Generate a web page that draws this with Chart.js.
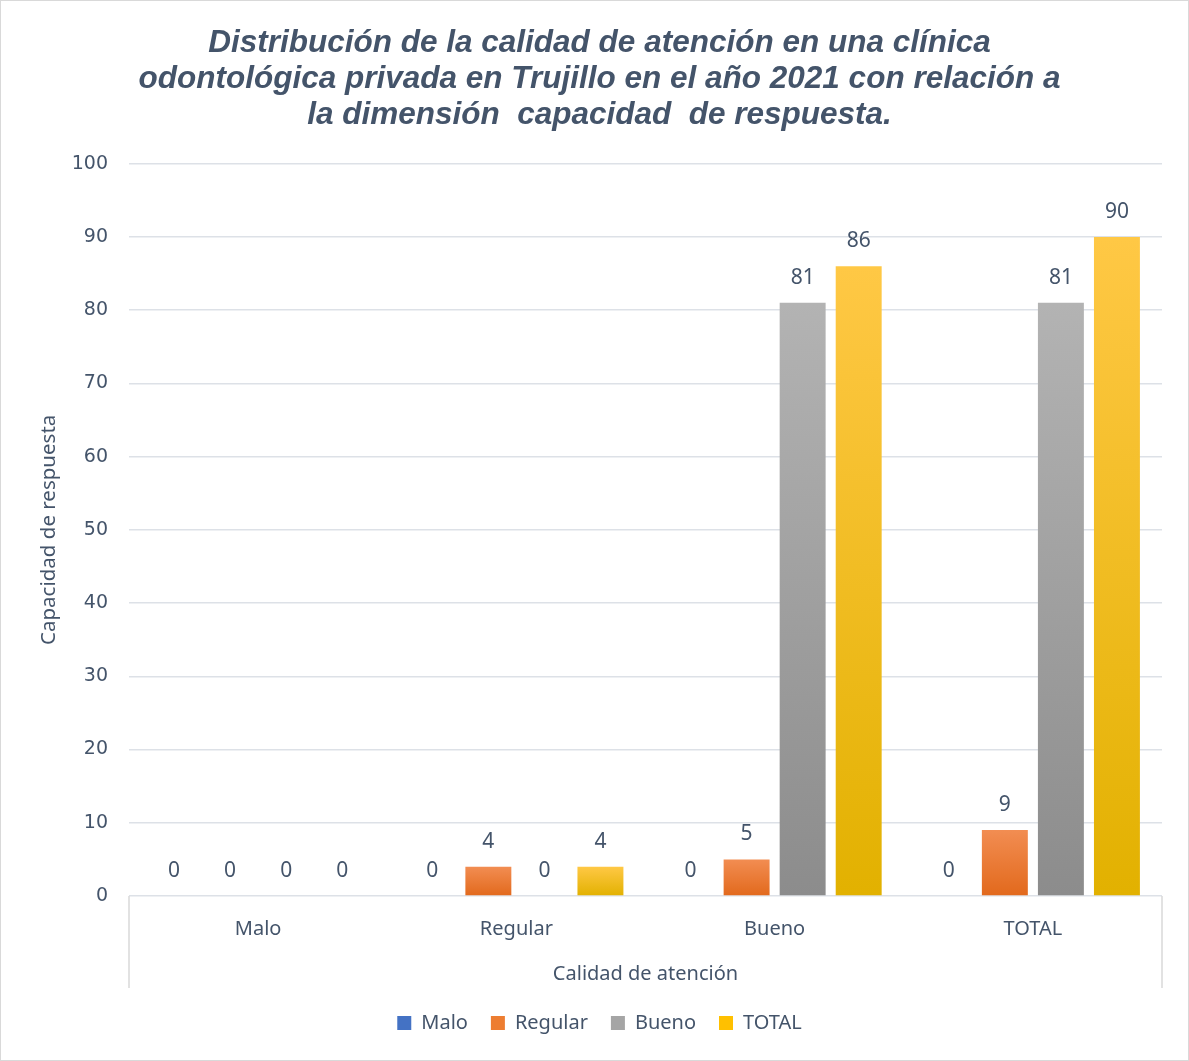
<!DOCTYPE html>
<html>
<head>
<meta charset="utf-8">
<script src="https://cdn.jsdelivr.net/npm/chart.js@4.4.1/dist/chart.umd.min.js"></script>
<style>
  html, body { margin: 0; padding: 0; background: #fff; }
  .wrap { width: 1187px; height: 1059px; border: 1px solid #d9d9d9; }
</style>
</head>
<body>
<div class="wrap"><canvas id="grafico" width="1187" height="1059"></canvas></div>
<script>
// Datos del gráfico
const categorias = ['Malo', 'Regular', 'Bueno', 'TOTAL'];
const serieNombres = ['Malo', 'Regular', 'Bueno', 'TOTAL'];
const valoresMalo = [0, 0, 0, 0];
const valoresRegular = [0, 4, 5, 9];
const valoresBueno = [0, 0, 81, 81];
const valoresTotal = [0, 4, 86, 90];
const ticksY = [0, 10, 20, 30, 40, 50, 60, 70, 80, 90, 100];

// colores (arriba claro, abajo oscuro)
const colores = [
    ['#5b8ad6', '#2f5fb3', '#4472c4'],
    ['#f28d52', '#e2691c', '#ed7d31'],
    ['#b3b3b3', '#8c8c8c', '#a5a5a5'],
    ['#ffc845', '#e2b100', '#ffc000']
];
const textoColor = '#44546a';

function degradado(ctx, i) {
    const chart = ctx.chart;
    const y = chart.scales.y;
    if (!chart.chartArea || !y || ctx.raw === undefined) return colores[i][2];
    const top = y.getPixelForValue(ctx.raw);
    const base = y.getPixelForValue(0);
    if (Math.abs(base - top) < 1) return colores[i][2];
    const g = chart.ctx.createLinearGradient(0, top, 0, base);
    g.addColorStop(0, colores[i][0]);
    g.addColorStop(1, colores[i][1]);
    return g;
}

// etiquetas sobre las barras
const etiquetas = {
    id: 'etiquetas',
    afterDatasetsDraw(chart) {
        const c = chart.ctx;
        c.save();
        c.font = '21px "Noto Sans"';
        c.fillStyle = textoColor;
        c.textAlign = 'center';
        c.textBaseline = 'middle';
        chart.data.datasets.forEach((ds, di) => {
            chart.getDatasetMeta(di).data.forEach((bar, i) => {
                c.fillText(ds.data[i], bar.x, bar.y - 25);
            });
        });
        c.restore();
    }
};

// líneas verticales del eje de categorías
const bordeEje = {
    id: 'bordeEje',
    afterDraw(chart) {
        const a = chart.chartArea;
        const c = chart.ctx;
        c.save();
        c.strokeStyle = '#d9d9d9';
        c.lineWidth = 1.5;
        [a.left, a.right].forEach(x => {
            c.beginPath();
            c.moveTo(x, a.bottom);
            c.lineTo(x, a.bottom + 92);
            c.stroke();
        });
        c.restore();
    }
};

const series = [valoresMalo, valoresRegular, valoresBueno, valoresTotal];

new Chart(document.getElementById('grafico'), {
    type: 'bar',
    data: {
        labels: categorias,
        datasets: series.map((vals, i) => ({
            label: serieNombres[i],
            data: vals,
            backgroundColor: ctx => degradado(ctx, i),
            borderWidth: 0,
            categoryPercentage: 0.868,
            barPercentage: 0.82
        }))
    },
    options: {
        responsive: false,
        animation: false,
        layout: { padding: { left: 36, right: 26, top: 8, bottom: 17 } },
        plugins: {
            title: {
                display: true,
                text: [
                    'Distribución de la calidad de atención en una clínica',
                    'odontológica privada en Trujillo en el año 2021 con relación a',
                    'la dimensión  capacidad  de respuesta.'
                ],
                color: textoColor,
                font: { family: '"Liberation Sans", Arial', size: 31.5, weight: 'bold', style: 'italic', lineHeight: 1.15 },
                padding: { top: 16, bottom: 30 }
            },
            legend: {
                position: 'bottom',
                labels: {
                    color: textoColor,
                    font: { family: '"Noto Sans"', size: 20 },
                    boxWidth: 14,
                    boxHeight: 14,
                    padding: 23,
                    generateLabels: chart => chart.data.datasets.map((ds, i) => ({
                        text: ds.label,
                        fillStyle: colores[i][2],
                        strokeStyle: colores[i][2],
                        lineWidth: 0,
                        fontColor: textoColor,
                        datasetIndex: i
                    }))
                }
            },
            tooltip: { enabled: false }
        },
        scales: {
            x: {
                grid: { display: false },
                border: { display: false },
                ticks: {
                    color: textoColor,
                    font: { family: '"Noto Sans"', size: 20 },
                    padding: 13
                },
                title: {
                    display: true,
                    text: 'Calidad de atención',
                    color: textoColor,
                    font: { family: '"Noto Sans"', size: 20 },
                    padding: { top: 8, bottom: 4 }
                }
            },
            y: {
                min: 0,
                max: 100,
                afterBuildTicks: axis => { axis.ticks = ticksY.map(v => ({ value: v })); },
                afterFit: axis => { axis.width = 92; },
                grid: { color: '#dde1e7', lineWidth: 1.5, drawTicks: false },
                border: { display: false },
                ticks: {
                    color: textoColor,
                    font: { family: '"DejaVu Sans"', size: 19 },
                    padding: 21
                },
                title: {
                    display: true,
                    text: 'Capacidad de respuesta',
                    color: textoColor,
                    font: { family: '"Noto Sans"', size: 20.5 },
                    padding: { top: 0, bottom: 10 }
                }
            }
        }
    },
    plugins: [etiquetas, bordeEje]
});
</script>
</body>
</html>
